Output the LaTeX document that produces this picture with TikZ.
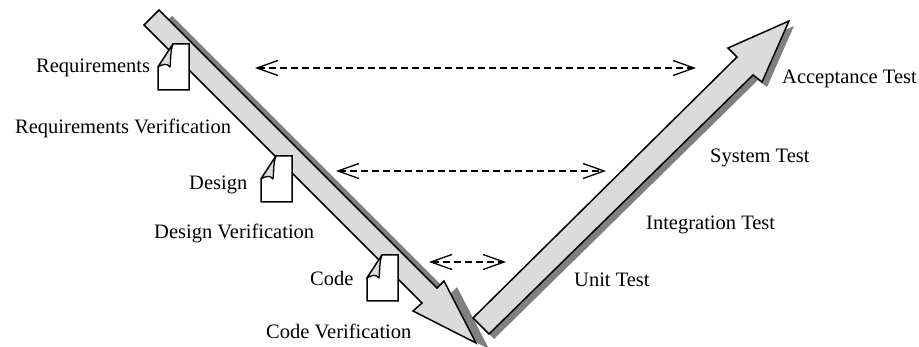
\documentclass[tikz,border=0pt]{standalone}
\usepackage{fontspec}
\setmainfont{Liberation Serif}
\usetikzlibrary{arrows.meta}
\tikzset{
    phasearrow/.style={draw=black,line width=1.5,fill=black!14,line join=miter},
    phaseshadow/.style={fill=black!50},
    tracearrow/.style={dash pattern=on 7pt off 4pt,line width=1.3,{Straight Barb[length=21pt,width=15pt]}-{Straight Barb[length=21pt,width=15pt]}},
    lbl/.style={inner sep=0pt,anchor=base west,font=\fontsize{20.5}{22}\selectfont},
    pics/docicon/.style={code={
        \draw [line width=1.5,fill=white,line join=miter] (15,0) -- (31,0) -- (31,46) -- (0,46) -- (0,23) -- cycle;
        \draw [line width=1.3,fill=black!14,line join=round] (15,0) .. controls (12,8) and (13,16) .. (12,23) .. controls (9,19) and (5,20) .. (0,23) -- cycle;
    }}
}
\begin{document}
\begin{tikzpicture}[x=1pt,y=-1pt]
    \useasboundingbox (0,0) rectangle (919,347);
    %\draw [very thin, green] (0,0) grid (919,347);

    % down arrow
    \fill [phaseshadow,shift={(13,6)}] (159,10) -- (437,288) -- (444,281) -- (476,343) -- (413,311) -- (422,303) -- (144,25) -- cycle;
    \draw [phasearrow] (159,10) -- (437,288) -- (444,281) -- (476,343) -- (413,311) -- (422,303) -- (144,25) -- cycle;

    % up arrow
    \fill [phaseshadow,shift={(5,5)}] (473,318) -- (737,57) -- (728,48) -- (789,21) -- (762,82) -- (753,75) -- (489,334) -- cycle;
    \draw [phasearrow] (473,318) -- (737,57) -- (728,48) -- (789,21) -- (762,82) -- (753,75) -- (489,334) -- cycle;

    \node at (36,73) [lbl] (req) {Requirements};
    \node at (15,134) [lbl] (reqv) {Requirements Verification};
    \node at (189,190) [lbl] (des) {Design};
    \node at (154,239) [lbl] (desv) {Design Verification};
    \node at (310,286) [lbl] (cod) {Code};
    \node at (266,339) [lbl] (codv) {Code Verification};
    \node at (782,84) [lbl] (acc) {Acceptance Test};
    \node at (710,163) [lbl] (sys) {System Test};
    \node at (646,230) [lbl] (int) {Integration Test};
    \node at (574,287) [lbl] (uni) {Unit Test};

    \pic (reqdoc) at (158,44) {docicon};
    \pic (desdoc) at (261,156) {docicon};
    \pic (coddoc) at (367,255) {docicon};

    \coordinate (al) at (255,68);
    \coordinate (ar) at (696,68);
    \coordinate (bl) at (336,171);
    \coordinate (br) at (606,171);
    \coordinate (cl) at (429,262);
    \coordinate (cr) at (506,262);
    \draw [tracearrow] (al) -- (ar);
    \draw [tracearrow] (bl) -- (br);
    \draw [tracearrow] (cl) -- (cr);
\end{tikzpicture}
\end{document}
